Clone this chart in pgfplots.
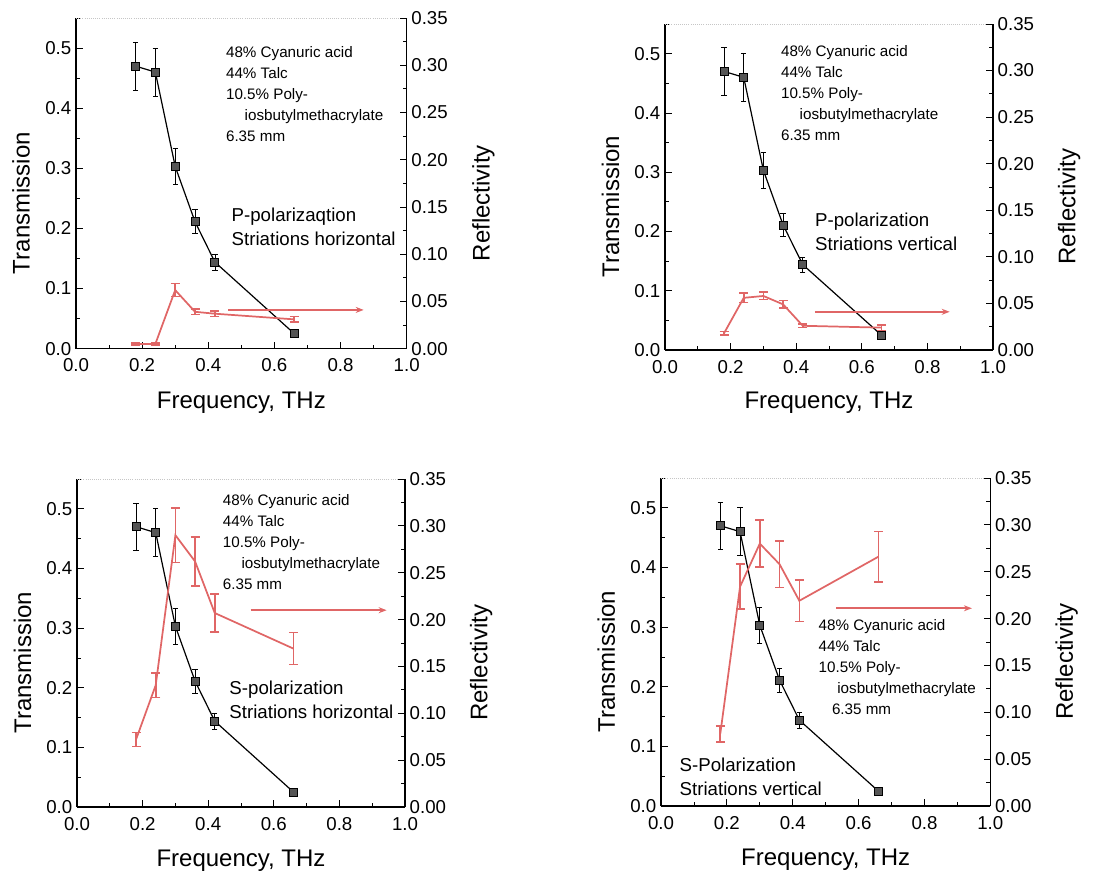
\documentclass[border=0pt]{standalone}
\usepackage{pgfplots}
\pgfplotsset{compat=1.18}
\usetikzlibrary{arrows.meta}
\usepackage{fontspec}
\setmainfont{Liberation Sans}
\definecolor{rd}{HTML}{E06666}
\definecolor{mk}{HTML}{555555}

\pgfplotstableread{
x y e
0.18 0.470 0.040
0.24 0.460 0.040
0.30 0.303 0.030
0.36 0.211 0.020
0.42 0.144 0.013
0.66 0.025 0.004
}\trans
\pgfplotstableread{
x y e
0.18 0.005 0.001
0.24 0.005 0.001
0.30 0.062 0.007
0.36 0.039 0.003
0.42 0.037 0.003
0.66 0.031 0.003
}\reflA
\pgfplotstableread{
x y e
0.18 0.018 0.002
0.24 0.056 0.005
0.30 0.058 0.004
0.36 0.049 0.004
0.42 0.026 0.002
0.66 0.024 0.003
}\reflB
\pgfplotstableread{
x y e
0.18 0.072 0.0075
0.24 0.130 0.013
0.30 0.290 0.029
0.36 0.262 0.026
0.42 0.207 0.020
0.66 0.169 0.017
}\reflC
\pgfplotstableread{
x y e
0.18 0.077 0.0085
0.24 0.234 0.024
0.30 0.280 0.025
0.36 0.258 0.025
0.42 0.219 0.022
0.66 0.266 0.027
}\reflD

\tikzset{
  arr/.style={rd, line width=1.2pt, -{Stealth[length=6pt,width=4.5pt]}},
  anno/.style={anchor=north west, inner sep=0pt, align=left, font=\fontsize{11.4}{15.75}\selectfont},
  anno2/.style={anchor=north west, inner sep=0pt, align=left, font=\fontsize{14}{18}\selectfont},
}
\pgfplotsset{
  base/.style={scale only axis, xmin=0, xmax=1,
    tick align=inside, tick style={black, line width=0.6pt},
    major tick length=5pt, minor tick length=3pt,
    axis line style={line width=0.8pt},
    ticklabel style={font=\fontsize{14}{15}\selectfont},
    label style={font=\fontsize{18}{19}\selectfont},
    /pgf/number format/assume math mode=true},
  leftax/.style={base, ymin=0, ymax=0.55,
    axis x line*=bottom, axis y line*=left,
    xtick={0,0.2,0.4,0.6,0.8,1.0}, minor xtick={0.1,0.3,0.5,0.7,0.9},
    xticklabel style={yshift=-4pt, /pgf/number format/.cd, fixed, fixed zerofill, precision=1},
    ytick={0,0.1,0.2,0.3,0.4,0.5}, minor ytick={0.05,0.15,0.25,0.35,0.45,0.55},
    yticklabel style={/pgf/number format/.cd, fixed, fixed zerofill, precision=1},
    xlabel={Frequency, THz}, ylabel={Transmission},
    xlabel style={at={(axis description cs:0.5,-0.163)}, anchor=center},
    ylabel style={at={(axis description cs:-0.166,0.44)}, anchor=center},
    clip=false},
  rightax/.style={base, ymin=0, ymax=0.35,
    axis x line=none, axis y line*=right,
    ytick={0,0.05,...,0.36}, minor ytick={0.025,0.075,...,0.33},
    yticklabel style={/pgf/number format/.cd, fixed, fixed zerofill, precision=2},
    ylabel={Reflectivity},
    ylabel style={at={(axis description cs:1.232,0.44)}, anchor=center},
    clip=false},
  tplot/.style={black, line width=0.9pt, mark=square*, mark size=3pt,
    mark options={fill=mk, draw=black, line width=0.6pt},
    error bars/.cd, y dir=both, y explicit,
    error bar style={black, line width=0.5pt},
    error mark options={rotate=90, mark size=2pt, black, line width=0.5pt}},
  rplot/.style={rd, line width=1.3pt, mark=none,
    error bars/.cd, y dir=both, y explicit,
    error bar style={rd, line width=1.2pt},
    error mark options={rotate=90, mark size=3.4pt, rd, line width=1.2pt}},
}

\newcommand{\panel}[9]{%
\begin{axis}[leftax, at={(#1,#2)}, anchor=north west, width=#3, height=#4]
  \draw[gray!45, line width=0.6pt, densely dotted] (rel axis cs:0,1) -- (rel axis cs:1,1);
  \addplot[tplot] table[x=x, y=y, y error=e] {\trans};
  #8
\end{axis}
\begin{axis}[rightax, at={(#1,#2)}, anchor=north west, width=#3, height=#4]
  \addplot[rplot] table[x=x, y=y, y error=e] {#5};
  \addplot[arr] coordinates {(#6,#7) (#9,#7)};
\end{axis}}

\begin{document}
\begin{tikzpicture}
\path[use as bounding box] (0,0) rectangle (840pt,-654.75pt);

\panel{57pt}{-13.5pt}{248pt}{248pt}{\reflA}{0.46}{0.041}{%
  \node[anno] at (axis cs:0.453,0.503) {48\% Cyanuric acid\\44\% Talc\\10.5\% Poly-\\\hspace*{14pt}iosbutylmethacrylate\\6.35 mm};
  \node[anno2] at (axis cs:0.47,0.234) {P-polarizaqtion\\Striations horizontal};
}{0.87}

\panel{498.75pt}{-18pt}{246pt}{244.5pt}{\reflB}{0.457}{0.041}{%
  \node[anno] at (axis cs:0.353,0.515) {48\% Cyanuric acid\\44\% Talc\\10.5\% Poly-\\\hspace*{14pt}iosbutylmethacrylate\\6.35 mm};
  \node[anno2] at (axis cs:0.457,0.231) {P-polarization\\Striations vertical};
}{0.868}

\panel{57.75pt}{-359.25pt}{246pt}{246pt}{\reflC}{0.529}{0.210}{%
  \node[anno] at (axis cs:0.444,0.524) {48\% Cyanuric acid\\44\% Talc\\10.5\% Poly-\\\hspace*{14pt}iosbutylmethacrylate\\6.35 mm};
  \node[anno2] at (axis cs:0.464,0.212) {S-polarization\\Striations horizontal};
}{0.944}

\panel{495.75pt}{-358.5pt}{247pt}{246pt}{\reflD}{0.532}{0.211}{%
  \node[anno] at (axis cs:0.478,0.314) {48\% Cyanuric acid\\44\% Talc\\10.5\% Poly-\\\hspace*{14pt}iosbutylmethacrylate\\\hspace*{10pt}6.35 mm};
  \node[anno2] at (axis cs:0.056,0.081) {S-Polarization\\Striations vertical};
}{0.944}

\end{tikzpicture}
\end{document}
